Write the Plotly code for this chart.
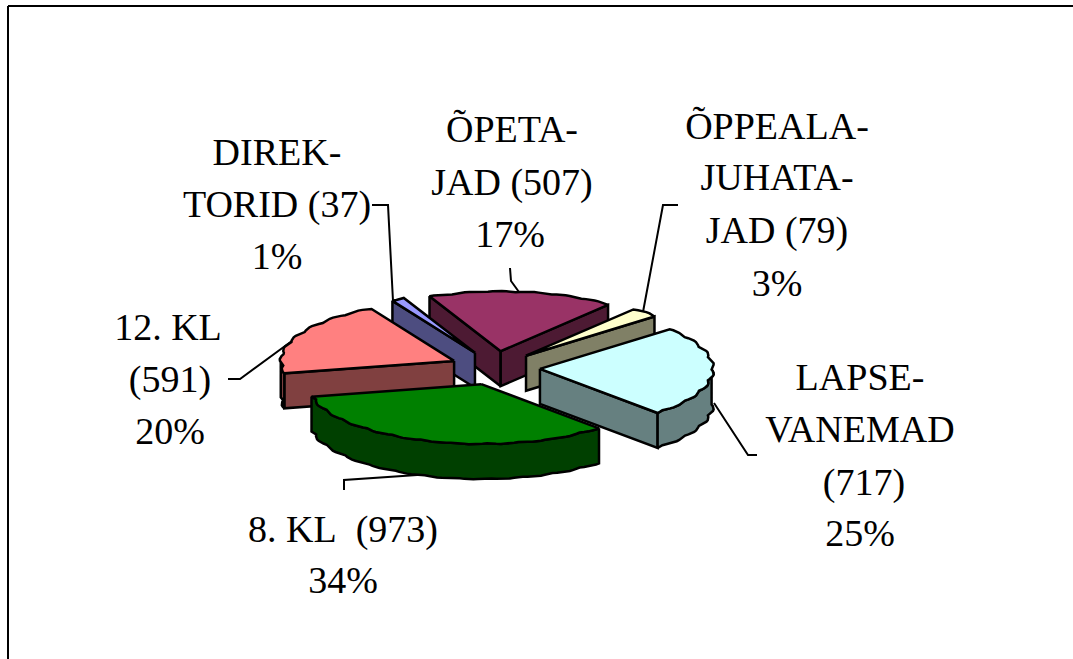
import math
import plotly.graph_objects as go

# ---- data ----
names = ["LAPSE-VANEMAD", "8. KL", "12. KL", "DIREKTORID", "ÕPETAJAD", "ÕPPEALAJUHATAJAD"]
values = [717, 973, 591, 37, 507, 79]
percents = [25, 34, 20, 1, 17, 3]
top_colors = ["#CCFFFF", "#008000", "#FF8080", "#9999FF", "#993366", "#FFFFCC"]
side_colors = ["#668080", "#004000", "#804040", "#4D4D80", "#4D1A33", "#808066"]
draw_order = [4, 3, 5, 2, 0, 1]

label_lines = [
    ["LAPSE-", "VANEMAD", "(717)", "25%"],
    ["8. KL\u00a0\u00a0(973)", "34%"],
    ["12. KL", "(591)", "20%"],
    ["DIREK-", "TORID (37)", "1%"],
    ["ÕPETA-", "JAD (507)", "17%"],
    ["ÕPPEALA-", "JUHATA-", "JAD (79)", "3%"],
]
label_x = [[860, 860, 864, 860], [343, 343], [168, 170, 170], [277, 277, 277],
           [512, 512, 510], [777, 777, 777, 777]]
label_y = [[380, 432, 485, 536], [532, 583], [330, 382, 434], [155, 207, 259],
           [132, 185, 237], [129, 180, 233, 286]]

leaders = [
    [(714, 403), (748, 455), (757, 455)],
    [(344, 490), (344, 480), (432, 474)],
    [(228, 379), (240, 379), (296, 338)],
    [(372, 205), (388, 205), (393, 301)],
    [(510, 268), (511, 281), (519, 292)],
    [(678, 205), (663, 205), (643, 312)],
]

# ---- pie geometry ----
CX, CY = 495, 368
RX, RY = 171, 59
EX, EY = 45, 17
DEPTH = 35
START = 41.5
BUMP = 11.0


def pt(deg, ox, oy, dy=0.0):
    rad = math.radians(deg)
    s = 1 + 0.02 * abs(math.sin(math.pi * deg / BUMP))
    return ox + RX * s * math.cos(rad), oy - RY * s * math.sin(rad) + dy


def arc(a0, a1):
    n = max(2, int(abs(a1 - a0) / 1.5) + 1)
    return [a0 + (a1 - a0) * i / (n - 1) for i in range(n)]


def poly(fig, points, color):
    xs = [p[0] for p in points] + [points[0][0]]
    ys = [p[1] for p in points] + [points[0][1]]
    fig.add_trace(go.Scatter(x=xs, y=ys, mode="lines", fill="toself", fillcolor=color,
                             line=dict(color="black", width=2.5), hoverinfo="skip"))


fig = go.Figure()
total = sum(values)
angles = []
cur = START
for v in values:
    angles.append((cur, cur - v / total * 360))
    cur = angles[-1][1]

# leader lines beneath the pie
for seg in leaders:
    fig.add_trace(go.Scatter(x=[p[0] for p in seg], y=[p[1] for p in seg], mode="lines",
                             line=dict(color="black", width=2), hoverinfo="skip"))

for i in draw_order:
    th0, th1 = angles[i]
    mid = math.radians((th0 + th1) / 2)
    ox, oy = CX + EX * math.cos(mid), CY - EY * math.sin(mid)
    if math.cos(math.radians(th0)) < 0:
        e = pt(th0, ox, oy)
        poly(fig, [(ox, oy), e, (e[0], e[1] + DEPTH), (ox, oy + DEPTH)], side_colors[i])
    if math.cos(math.radians(th1)) > 0:
        e = pt(th1, ox, oy)
        poly(fig, [(ox, oy), e, (e[0], e[1] + DEPTH), (ox, oy + DEPTH)], side_colors[i])
    vis = [d for d in arc(th0, th1) if math.sin(math.radians(d)) < 0.0]
    if len(vis) > 1:
        poly(fig, [pt(d, ox, oy) for d in vis] + [pt(d, ox, oy, DEPTH) for d in reversed(vis)],
             side_colors[i])
    poly(fig, [(ox, oy)] + [pt(d, ox, oy) for d in arc(th0, th1)], top_colors[i])

# labels
fig.add_trace(go.Scatter(
    x=[x for row in label_x for x in row],
    y=[y for row in label_y for y in row],
    text=[t for row in label_lines for t in row],
    mode="text", textposition="middle center",
    textfont=dict(family="Liberation Serif", size=38, color="black"),
    hoverinfo="skip"))

fig.update_layout(
    width=1073, height=659, margin=dict(l=0, r=0, t=0, b=0), showlegend=False,
    paper_bgcolor="white", plot_bgcolor="white",
    xaxis=dict(range=[0, 1073], visible=False, fixedrange=True),
    yaxis=dict(range=[659, 0], visible=False, fixedrange=True),
    shapes=[
        dict(type="line", xref="x", yref="y", x0=8, y0=6, x1=1073, y1=6, line=dict(color="black", width=2)),
        dict(type="line", xref="x", yref="y", x0=8, y0=6, x1=8, y1=659, line=dict(color="black", width=2)),
    ],
)
fig.write_html("out.html", config={"displayModeBar": False},
               post_script="document.body.style.margin='0';document.documentElement.style.overflow='hidden';")
